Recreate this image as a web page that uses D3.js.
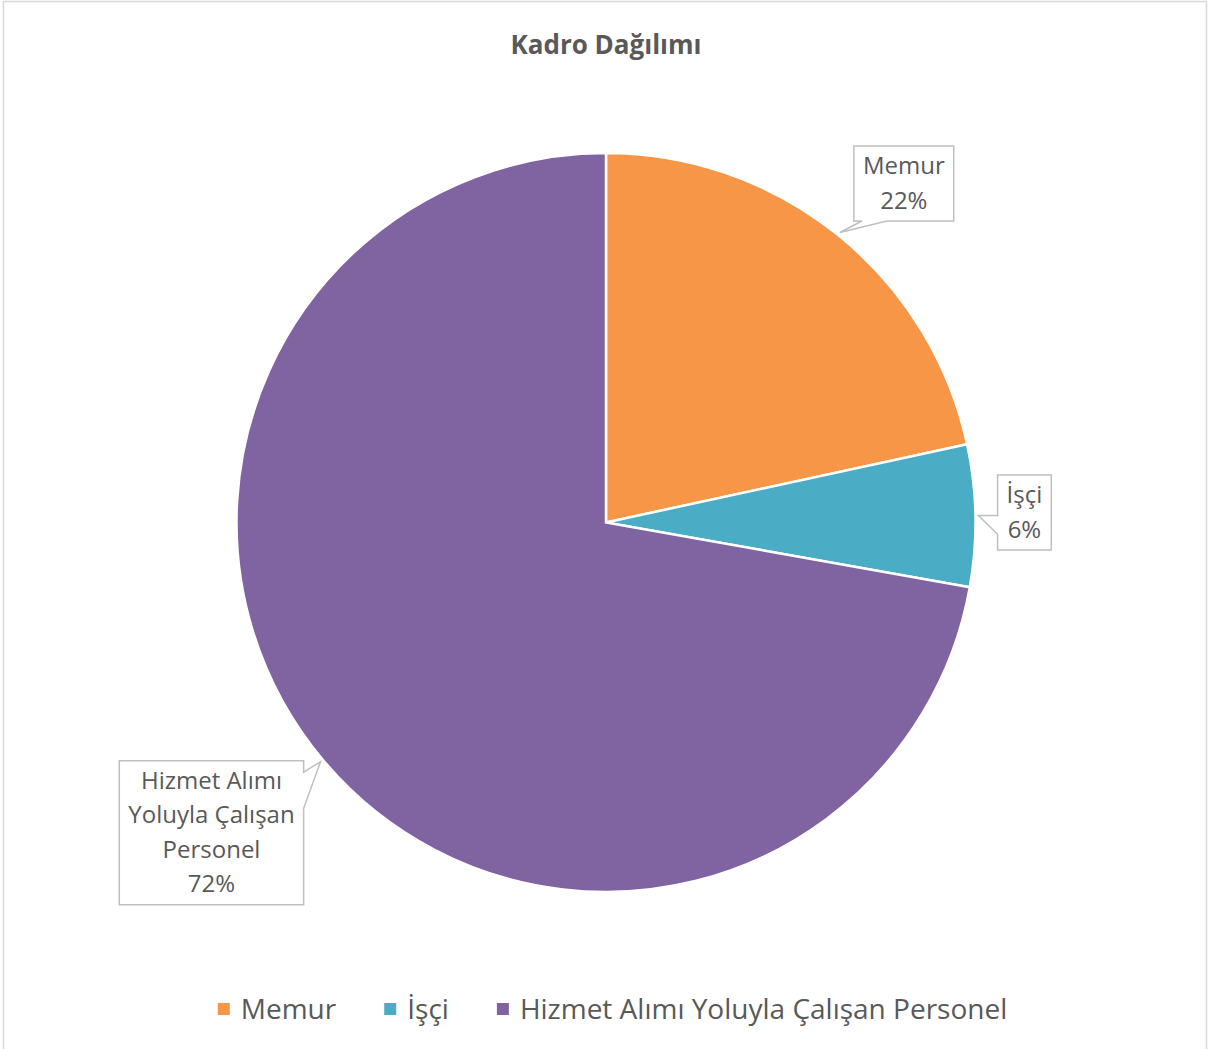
<!DOCTYPE html>
<html>
<head>
<meta charset="utf-8">
<script src="https://cdn.jsdelivr.net/npm/d3@7"></script>
<style>
	body { margin: 0; background: #fff; }
	svg text { font-family: "Open Sans", "Noto Sans", sans-serif; fill: #595959; }
</style>
</head>
<body>
<div id="chart"></div>
<script>
var categories = ["Memur", "İşçi", "Hizmet Alımı Yoluyla Çalışan Personel"]
var labelLines = [["Memur"], ["İşçi"], ["Hizmet Alımı", "Yoluyla Çalışan", "Personel"]]
var values = [21.6, 6.2, 72.2]
var colors = ["#F79646", "#4BACC6", "#8064A2"]
// label box centre, offset from the callout tip
var labelOffset = [[64, -49], [46, -3], [-109, 71]]

var width = 1209, height = 1049
var cx = 606, cy = 522.5, radius = 369.5

var svg = d3.select("#chart").append("svg")
	.attr("width", width)
	.attr("height", height)

svg.append("rect")
	.attr("x", 3.5).attr("y", 1.5)
	.attr("width", 1203).attr("height", 1070)
	.attr("fill", "#fff")
	.attr("stroke", "#d9d9d9")
	.attr("stroke-width", 1.5)

svg.append("text")
	.attr("x", cx).attr("y", 54)
	.attr("text-anchor", "middle")
	.style("font-size", "26px")
	.style("font-weight", "bold")
	.text("Kadro Dağılımı")

var total = d3.sum(values)
var pie = d3.pie().sort(null).value(function (d) { return d })
var arcs = pie(values)
var arc = d3.arc().innerRadius(0).outerRadius(radius)

var g = svg.append("g").attr("transform", "translate(" + cx + "," + cy + ")")

g.selectAll("path.slice")
	.data(arcs)
	.enter().append("path")
		.attr("class", "slice")
		.attr("d", arc)
		.attr("fill", function (d, i) { return colors[i] })
		.attr("stroke", "#fff")
		.attr("stroke-width", 2.5)

// data labels with callout boxes
var lineH = 34.5, fs = 24
arcs.forEach(function (d, i) {
	var mid = (d.startAngle + d.endAngle) / 2
	var tip = [Math.sin(mid) * (radius + 3), -Math.cos(mid) * (radius + 3)]
	var ctr = [tip[0] + labelOffset[i][0], tip[1] + labelOffset[i][1]]
	var lines = labelLines[i].concat([Math.round(values[i] / total * 100) + "%"])

	var lg = g.append("g")
	var texts = lines.map(function (t, k) {
		return lg.append("text")
			.attr("x", ctr[0])
			.attr("y", ctr[1] - (lines.length - 1) * lineH / 2 + k * lineH + 8)
			.attr("text-anchor", "middle")
			.style("font-size", fs + "px")
			.text(t)
	})
	var tw = d3.max(texts, function (t) { return t.node().getComputedTextLength() })
	var bw = tw + 18, bh = lines.length * lineH + 6
	var x0 = ctr[0] - bw / 2, x1 = ctr[0] + bw / 2
	var y0 = ctr[1] - bh / 2, y1 = ctr[1] + bh / 2

	// choose side facing the tip
	var pts
	var ddx = tip[0] - ctr[0], ddy = tip[1] - ctr[1]
	function base(a, b, p) {
		var w = (b - a) * 0.25
		var s = Math.max(a + (b - a) * 0.08, Math.min(b - w - (b - a) * 0.08, p))
		return [s, s + w]
	}
	if (tip[1] > y1 && Math.abs(ddy) / bh > Math.abs(ddx) / bw) {
		var b = base(x0, x1, tip[0])
		pts = [[x0, y0], [x1, y0], [x1, y1], [b[1], y1], tip, [b[0], y1], [x0, y1]]
	} else if (tip[1] < y0 && Math.abs(ddy) / bh > Math.abs(ddx) / bw) {
		var b = base(x0, x1, tip[0])
		pts = [[x0, y0], [b[0], y0], tip, [b[1], y0], [x1, y0], [x1, y1], [x0, y1]]
	} else if (tip[0] < x0) {
		var b = base(y0, y1, tip[1])
		pts = [[x0, y0], [x1, y0], [x1, y1], [x0, y1], [x0, b[1]], tip, [x0, b[0]]]
	} else {
		var b = base(y0, y1, tip[1])
		pts = [[x0, y0], [x1, y0], [x1, b[0]], tip, [x1, b[1]], [x1, y1], [x0, y1]]
	}
	lg.insert("path", "text")
		.attr("d", d3.line()(pts) + "Z")
		.attr("fill", "#fff")
		.attr("stroke", "#bfbfbf")
		.attr("stroke-width", 1.5)
})

// legend
var legend = svg.append("g")
var lx = 0
categories.forEach(function (c, i) {
	var it = legend.append("g")
	it.append("rect")
		.attr("x", 0).attr("y", -6)
		.attr("width", 12).attr("height", 12)
		.attr("fill", colors[i])
	var t = it.append("text")
		.attr("x", 23).attr("y", 10)
		.style("font-size", "28px")
		.text(c)
	var w = 23 + t.node().getComputedTextLength()
	it.attr("transform", "translate(" + lx + ",0)")
	lx += w + 48
})
var totalW = lx - 48
legend.attr("transform", "translate(" + (width / 2 + 8 - totalW / 2) + ",1009)")
</script>
</body>
</html>
